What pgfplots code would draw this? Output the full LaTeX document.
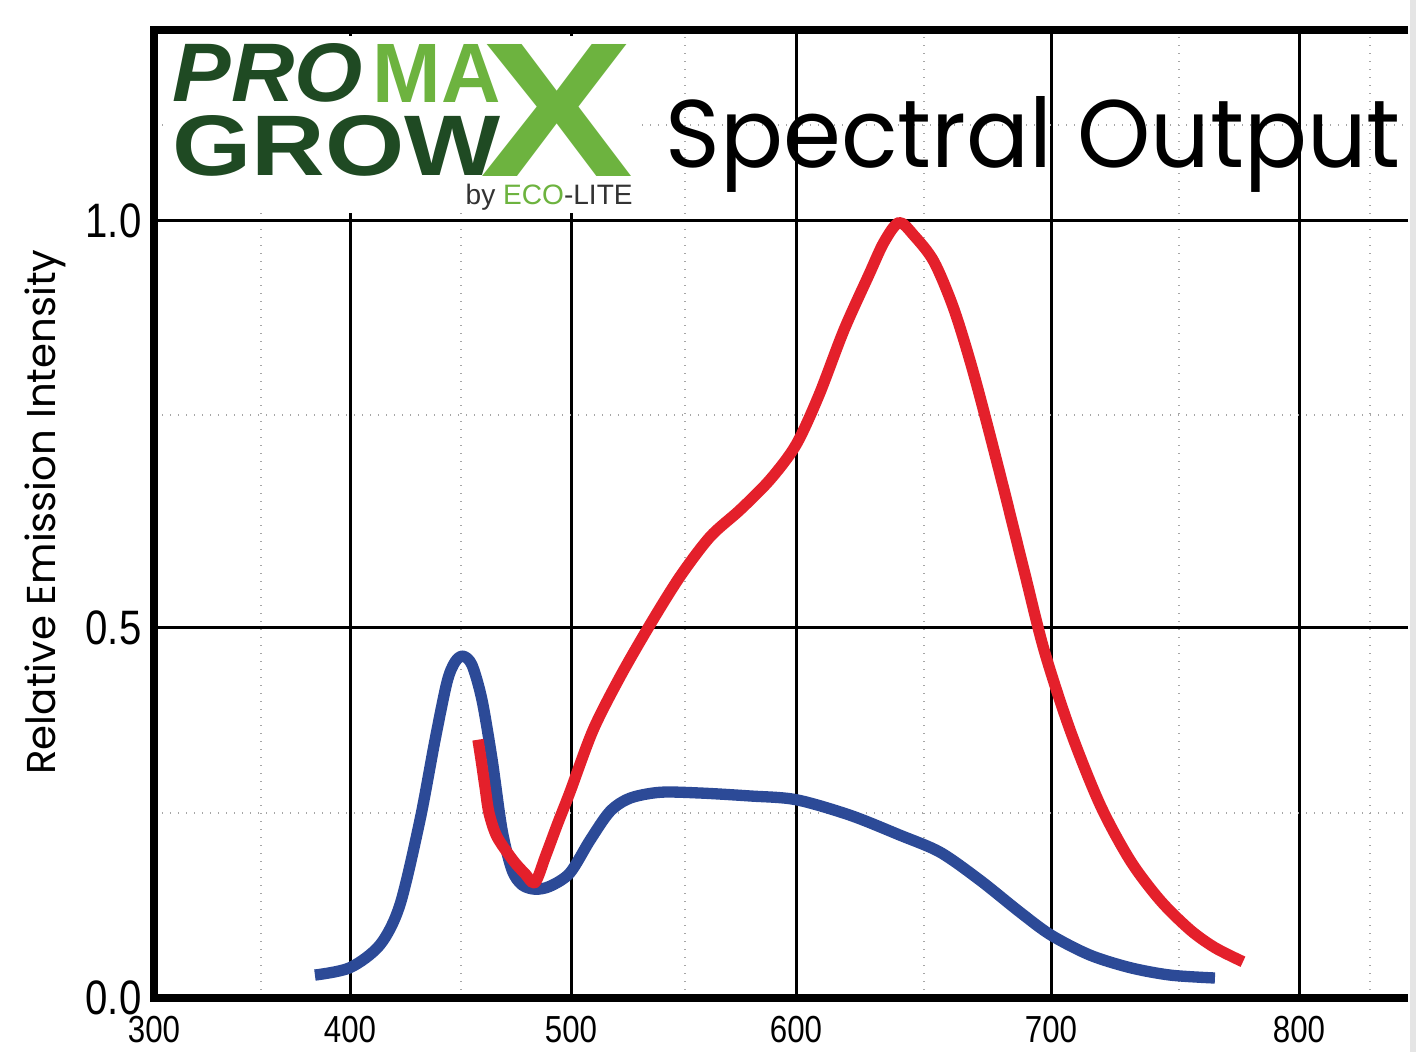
\documentclass[border=0pt]{standalone}
\usepackage{fontspec}
\setmainfont{Liberation Sans}
\newfontfamily\pop{Poppins}
\usepackage{pgfplots}
\pgfplotsset{compat=1.18}
\usepackage{graphicx}

\definecolor{bl}{HTML}{2C4A97}
\definecolor{rd}{HTML}{E4202B}
\definecolor{dg}{HTML}{1F4A23}
\definecolor{lg}{HTML}{6DB33F}
\definecolor{tg}{HTML}{333333}

\newcommand\nl[1]{\scalebox{0.83}[1]{#1}}

\begin{document}
\begin{tikzpicture}
\begin{axis}[
  at={(0,0)}, anchor=south west,
  scale only axis, width=376.2pt, height=290.4pt,
  x coord trafo/.code={\pgfmathparse{(#1<400) ? (154+(#1-300)*1.96) : ((#1<500) ? (350+(#1-400)*2.21) : ((#1<600) ? (571+(#1-500)*2.25) : ((#1<700) ? (796+(#1-600)*2.55) : (1051+(#1-700)*2.48))))}},
  x coord inv trafo/.code={\pgfmathparse{(#1<350) ? (300+(#1-154)/1.96) : ((#1<571) ? (400+(#1-350)/2.21) : ((#1<796) ? (500+(#1-571)/2.25) : ((#1<1051) ? (600+(#1-796)/2.55) : (700+(#1-1051)/2.48))))}},
  y coord trafo/.code={\pgfmathparse{(#1<0.5) ? (#1*740) : (370+(#1-0.5)*814)}},
  y coord inv trafo/.code={\pgfmathparse{(#1<370) ? (#1/740) : (0.5+(#1-370)/814)}},
  xmin=300, xmax=843.95, ymin=0, ymax=1.2346,
  xtick={300,400,500,600,700,800},
  xticklabels={\nl{300},\nl{400},\nl{500},\nl{600},\nl{700},\nl{800}},
  minor xtick={354.6,450.2,550.7,650.2,751.6,828.6},
  ytick={0,0.5,1},
  yticklabels={\nl{0.0},\nl{0.5},\nl{1.0}},
  minor ytick={0.25,0.7617,1.118},
  grid=both,
  major grid style={black, line width=0.9pt},
  minor grid style={gray!70, dotted, line width=0.5pt},
  major tick length=0pt, minor tick length=0pt,
  axis line style={draw=none},
  xticklabel style={font=\fontsize{11.3}{12}\selectfont, anchor=north, inner sep=0pt, yshift=-5.4pt},
  yticklabel style={font=\fontsize{14.5}{15}\selectfont, anchor=east, inner sep=0pt, xshift=-3.6pt},
  clip=false,
]
\addplot[bl, line width=3.4pt, smooth, line join=round] coordinates {
(382.1,0.031) (400,0.041) (413.6,0.072) (422.6,0.126) (431.7,0.241) (438.5,0.349)
(443.9,0.427) (447.5,0.454) (451.1,0.462) (455.2,0.450) (459.7,0.403) (464.3,0.322)
(468.8,0.227) (473.3,0.173) (477.8,0.153) (483.7,0.147) (490.5,0.151) (499.5,0.169)
(508.4,0.213) (517.3,0.252) (526.2,0.270) (539.6,0.278) (557.3,0.277) (579.6,0.273)
(600,0.268) (621.2,0.247) (640.8,0.220) (656.5,0.197) (672.2,0.159) (687.8,0.116)
(700,0.085) (715.7,0.058) (731.9,0.041) (748.0,0.031) (766.1,0.027)
};
\addplot[rd, line width=3.4pt, smooth, line join=round] coordinates {
(457.9,0.349) (459.3,0.322) (461.1,0.285) (462.9,0.250) (466.5,0.218) (473.8,0.186)
(479.2,0.168) (483.7,0.156) (488.5,0.192) (494.0,0.236) (499.5,0.278) (509.8,0.362)
(521.8,0.434) (535.1,0.504) (548.4,0.563) (561.8,0.612) (575.1,0.645) (588.4,0.682)
(600,0.725) (609.0,0.786) (618.8,0.866) (628.6,0.934) (634.5,0.974) (640.4,0.998)
(646.3,0.982) (654.1,0.950) (662.0,0.891) (669.8,0.811) (679.6,0.694) (689.4,0.571)
(697.3,0.470) (707.7,0.362) (719.8,0.261) (731.9,0.186) (744.0,0.132) (756.1,0.092)
(766.1,0.068) (777.4,0.049)
};
\draw[line width=2.6pt] (rel axis cs:1,1) -- (rel axis cs:0,1) -- (rel axis cs:0,0) -- (rel axis cs:1,0);
\end{axis}
\begin{scope}[shift={(-46.2pt,299.4pt)}, x=0.3pt, y=-0.3pt]
\fill[gray!20] (1410,0) rectangle (1416,1052);
\fill[white] (163,36) rectangle (641,213);
\node[anchor=south west, inner sep=0pt] at (480,177) {\resizebox{45.9pt}{39.6pt}{\color{lg}\bfseries X}};
\node[anchor=south west, inner sep=0pt] at (172,103) {\resizebox{57pt}{17.4pt}{\color{dg}\bfseries\itshape PRO}};
\node[anchor=south west, inner sep=0pt] at (372,103) {\resizebox{38.4pt}{17.4pt}{\color{lg}\bfseries MA}};
\node[anchor=south west, inner sep=0pt] at (172,177) {\resizebox{98.4pt}{18pt}{\color{dg}\bfseries GROW}};
\node[anchor=base west, inner sep=0pt] at (465,205) {\resizebox{50.1pt}{!}{\color{tg}by \textcolor{lg}{ECO}-LITE}};
\node[anchor=base west, inner sep=0pt] at (665,168) {\resizebox{220.5pt}{21.3pt}{\pop Spectral Output}};
\node[rotate=90, inner sep=0pt] at (45,512) {\resizebox{157.5pt}{!}{\pop Relative Emission Intensity}};
\end{scope}
\pgfresetboundingbox
\path (-46.2pt,299.4pt) rectangle (378.6pt,-16.2pt);
\end{tikzpicture}
\end{document}
